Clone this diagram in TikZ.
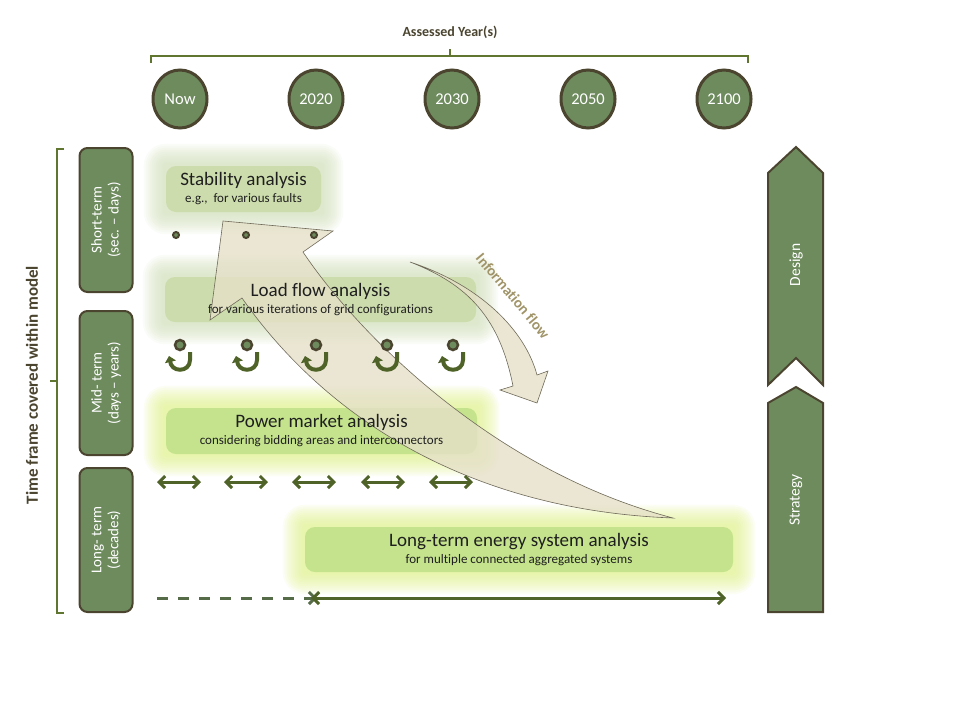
\documentclass[tikz,border=0pt]{standalone}
\usepackage{fontspec}
\setmainfont{Carlito}[Ligatures=NoCommon]
\usepackage{tikz}
\usetikzlibrary{positioning}
\usetikzlibrary{arrows.meta, shapes.geometric}
\usepackage{xcolor}
\definecolor{leaf}{RGB}{110,139,94}
\definecolor{bark}{RGB}{75,69,48}
\definecolor{moss}{RGB}{79,98,40}
\definecolor{sage}{RGB}{204,220,172}
\definecolor{sageglow}{RGB}{212,226,188}
\definecolor{lime}{RGB}{196,227,140}
\definecolor{limeglow}{RGB}{226,245,140}
\definecolor{flow}{RGB}{229,224,200}
\definecolor{khaki}{RGB}{160,148,104}
\definecolor{brace}{RGB}{95,117,48}
\definecolor{dash}{RGB}{86,107,72}
\pgfdeclarelayer{background}
\pgfsetlayers{background,main}

\begin{document}
\begin{tikzpicture}[x=1pt, y=-1pt, node distance=136pt,
  year/.style = {draw=bark, fill=leaf, ellipse, line width=3pt, minimum width=54pt, minimum height=58pt, inner sep=0pt, text=white, font=\fontsize{16.5}{18}\selectfont},
  span/.style = {draw=bark, fill=leaf, rounded corners=8pt, line width=2pt, minimum width=144pt, minimum height=53pt, rotate=90, align=center, text=white, font=\fontsize{15}{17}\selectfont},
  box/.style = {rounded corners=10pt, minimum height=46pt, inner sep=0pt},
  title/.style = {align=center, text=black!88, font=\fontsize{19}{21}\selectfont},
  brace/.style = {draw=brace, line width=2pt},
  hand/.style = {draw=moss, line width=3pt, <->, >={Straight Barb[length=6pt,width=12pt]}},
  chev/.style = {draw=bark, fill=leaf, line width=2pt, line join=miter},
  big/.style = {draw=bark!80, fill=flow, fill opacity=.8, line width=.6pt}]
\useasboundingbox (0,0) rectangle (960,720);

% years on top
\node[font=\bfseries\fontsize{14}{16}\selectfont, text=bark] (assessed) at (450,32) {Assessed Year(s)};
\draw[brace] (151,63) -- (151,56) -- (748,56) -- (748,63);
\draw[brace] (450,56) -- (450,49);
\node[year] (now) at (180,99) {Now};
\node[year] (y2020) [right of=now] {2020};
\node[year] (y2030) [right of=y2020] {2030};
\node[year] (y2050) [right of=y2030] {2050};
\node[year] (y2100) [right of=y2050] {2100};

% time frames on the left
\node[rotate=90, font=\bfseries\fontsize{17}{19}\selectfont, text=bark] (frame) at (32,385) {Time frame covered within model};
\draw[brace] (64,149) -- (57,149) -- (57,613) -- (64,613);
\draw[brace] (57,381) -- (50,381);
\node[span] (short) at (106,220) {Short-term\\(sec. -- days)};
\node[span] (mid) at (106,383) {Mid- term\\(days -- years)};
\node[span] (long) at (106,540) {Long- term\\(decades)};

% design / strategy
\draw[chev] (768,173) -- (796,147) -- (823,173) -- (823,385) -- (796,358) -- (768,385) -- cycle;
\draw[chev] (768,403) -- (796,387) -- (823,403) -- (823,612) -- (768,612) -- cycle;
\node[rotate=90, text=white, font=\fontsize{15.5}{17}\selectfont] (design) at (796,265) {Design};
\node[rotate=90, text=white, font=\fontsize{15.5}{17}\selectfont] (strategy) at (796,500) {Strategy};

% analysis boxes
\node[box, fill=sage, minimum width=155pt] (stab) at (243.5,189) {};
\node[box, fill=sage, minimum width=311pt, minimum height=45pt] (load) at (320.5,299.5) {};
\node[box, fill=lime, minimum width=311pt] (market) at (321.5,431) {};
\node[box, fill=lime, minimum width=428pt, minimum height=45pt] (energy) at (519,549.5) {};
\begin{pgfonlayer}{background}
\fill[white] (0,0) rectangle (960,720);
\foreach \b/\c in {stab/sageglow, load/sageglow, market/limeglow, energy/limeglow}
  \foreach \g [evaluate=\g as \rc using 10+\g] in {22,20,...,2}
    \fill[\c, opacity=.1, rounded corners=\rc pt] ([xshift=-\g pt, yshift=\g pt]\b.north west) rectangle ([xshift=\g pt, yshift=-\g pt]\b.south east);
\end{pgfonlayer}

% information flow
\draw[big] (223,221) -- (333,231) -- (303,252) .. controls (355,330) and (490,470) .. (673,518)
  .. controls (460,510) and (320,410) .. (242,298) -- (210,320) -- cycle;
\draw[big] (410,262) .. controls (480,285) and (525,330) .. (537,375) -- (548,371) -- (537,403)
  -- (500,390) -- (513,386) .. controls (500,320) and (470,285) .. (410,262) -- cycle;
\node[rotate=-50, text=khaki, font=\bfseries\fontsize{15}{17}\selectfont] (info) at (513,296) {Information flow};

\node[title] (stabtxt) at (stab) {Stability analysis\\[-4pt]{\fontsize{13}{15}\selectfont e.g.,~ for various faults}};
\node[title] (loadtxt) at (load) {Load flow analysis\\[-4pt]{\fontsize{13}{15}\selectfont for various iterations of grid configurations}};
\node[title] (markettxt) at (market) {Power market analysis\\[-4pt]{\fontsize{13}{15}\selectfont considering bidding areas and interconnectors}};
\node[title] (energytxt) at (energy) {Long-term energy system analysis\\[-4pt]{\fontsize{13}{15}\selectfont for multiple connected aggregated systems}};

% short term dots
\foreach \x in {176,246,314}
  \draw[draw=bark, fill=leaf, line width=2pt] (\x,235) circle (3pt);

% mid term loops
\foreach \x in {180,247,316,387,453} {
  \draw[draw=bark, fill=leaf, line width=2.5pt] (\x,345) circle (5pt);
  \draw[draw=moss, line width=4pt, -{Triangle[length=6pt,width=11pt]}] (\x+10,352) -- (\x+10,360)
    .. controls (\x+10,373) and (\x-10,373) .. (\x-10,360) -- (\x-11,356);
}

% long term exchange
\foreach \a/\b in {157/201, 224/268, 292/336, 361/405, 429/473}
  \draw[hand] (\a,482) -- (\b,482);
\draw[draw=dash, line width=3pt, dash pattern=on 11pt off 10pt, -{Straight Barb[length=6pt,width=12pt]}] (157,598) -- (317,598);
\draw[hand] (311,598) -- (726,598);
\end{tikzpicture}
\end{document}
